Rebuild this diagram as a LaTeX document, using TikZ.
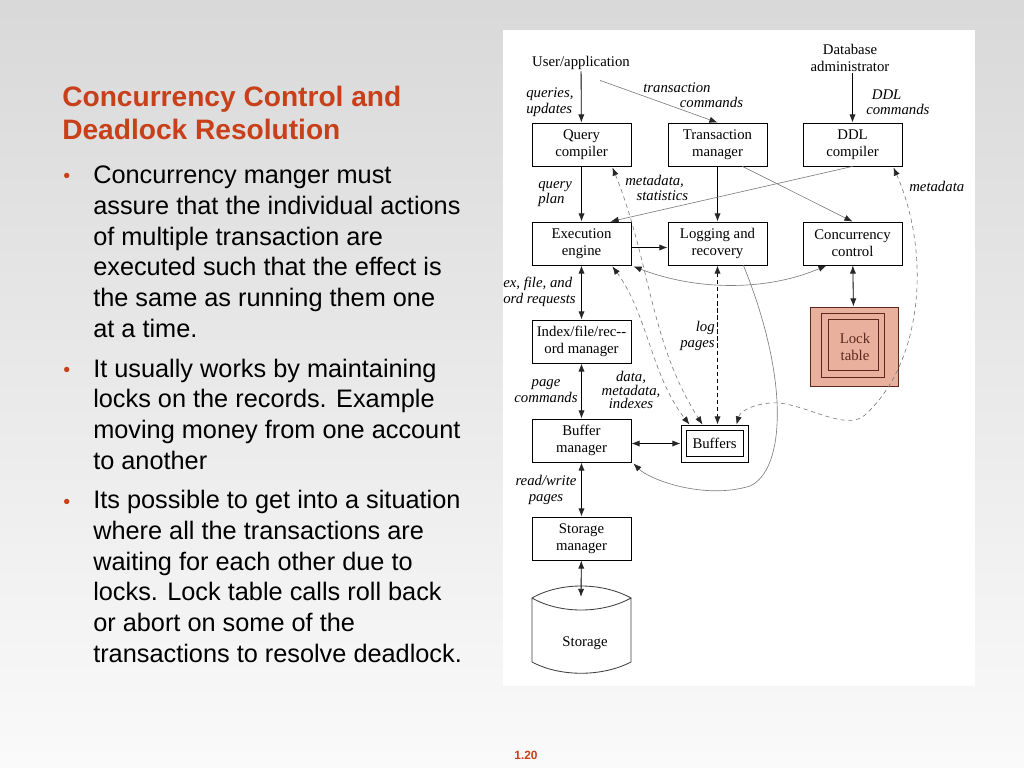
\documentclass[tikz,border=0pt]{standalone}
\usepackage{fontspec}
\setmainfont{Liberation Sans}
\newfontfamily\diagfont{Liberation Serif}
\usetikzlibrary{arrows.meta}
\definecolor{slidered}{RGB}{200,64,26}
\definecolor{lockfill}{RGB}{233,176,158}
\definecolor{lockline}{RGB}{92,40,28}
\definecolor{linegray}{RGB}{125,125,125}
\tikzset{
  >={Latex[length=5.8pt,width=4.4pt,color=black!85]},
  box/.style={draw, line width=0.6pt, minimum width=2.475cm, minimum height=1.075cm,
    align=center, inner sep=1pt, font=\diagfont\fontsize{10.5}{12}\selectfont},
  plain/.style={align=center, inner sep=1pt, font=\diagfont\fontsize{10.5}{11.5}\selectfont},
  lbl/.style={inner sep=0pt, font=\diagfont\itshape\fontsize{10.5}{11}\selectfont},
  arr/.style={->, line width=0.6pt},
  arrb/.style={<->, line width=0.6pt},
  garr/.style={->, draw=linegray, line width=0.45pt},
  garrb/.style={<->, draw=linegray, line width=0.45pt},
  darr/.style={<->, line width=0.6pt, dash pattern=on 3pt off 2pt},
  dgarr/.style={<->, draw=linegray, line width=0.45pt, dash pattern=on 3pt off 2.5pt},
  title/.style={inner sep=0pt, align=left, text=slidered, font=\bfseries\fontsize{20}{24}\selectfont},
  body/.style={inner sep=0pt, align=left, font=\fontsize{18}{21.8}\selectfont},
  bul/.style={inner sep=0pt, text=slidered, font=\fontsize{14}{16}\selectfont}
}
\begin{document}
\begin{tikzpicture}[x=0.025cm, y=-0.025cm]
  \useasboundingbox (0,0) rectangle (1024,768);
  \shade[top color=gray!30, bottom color=gray!4] (0,0) rectangle (1024,768);
  \fill[white] (503,30) rectangle (975,686);

  % slide text
  \node[title, anchor=base west] (title) at (62,140) {Concurrency Control and\\Deadlock Resolution};
  \node[bul, anchor=base west] (b1) at (63,183) {\textbullet};
  \node[body, anchor=base west] (t1) at (93,337) {Concurrency manger must\\assure that the individual actions\\of multiple transaction are\\executed such that the effect is\\the same as running them one\\at a time.};
  \node[bul, anchor=base west] (b2) at (63,376) {\textbullet};
  \node[body, anchor=base west] (t2) at (93,469) {It usually works by maintaining\\locks on the records. Example\\moving money from one account\\to another};
  \node[bul, anchor=base west] (b3) at (63,508) {\textbullet};
  \node[body, anchor=base west] (t3) at (93,662) {Its possible to get into a situation\\where all the transactions are\\waiting for each other due to\\locks. Lock table calls roll back\\or abort on some of the\\transactions to resolve deadlock.};
  \node[text=slidered, font=\bfseries\fontsize{8.5}{10}\selectfont] (pgno) at (526,755) {1.20};

  % boxes
  \node[plain] (user) at (581,63) {User/application};
  \node[plain] (dba) at (850,58) {Database\\administrator};
  \node[box] (qc) at (581.5,144.5) {Query\\compiler};
  \node[box] (tm) at (717.5,144.5) {Transaction\\manager};
  \node[box] (ddl) at (852.5,144.5) {DDL\\compiler};
  \node[box] (ee) at (581.5,243.5) {Execution\\engine};
  \node[box] (lr) at (717.5,243.5) {Logging and\\recovery};
  \node[box] (cc) at (852.5,243.5) {Concurrency\\control};
  \node[box] (ifm) at (581.5,341.5) {Index/file/rec--\\ord manager};
  \node[box] (bm) at (581.5,440.5) {Buffer\\manager};
  \node[box] (sm) at (581.5,538.5) {Storage\\manager};
  \node[box, minimum width=1.675cm, minimum height=0.925cm] (buf) at (714.5,443.5) {Buffers};
  \draw[line width=0.6pt] ([shift={(6,6)}]buf.north west) rectangle ([shift={(-5,-6)}]buf.south east);
  \node[draw=lockline, fill=lockfill, line width=0.6pt, minimum width=2.2cm, minimum height=1.975cm] (lock) at (854,346.5) {};
  \draw[lockline, line width=0.6pt] ([shift={(12,7)}]lock.north west) rectangle ([shift={(-14,-9)}]lock.south east);
  \draw[lockline, line width=0.6pt] ([shift={(19,13)}]lock.north west) rectangle ([shift={(-20,-16)}]lock.south east);
  \node[plain, text=lockline] (locktxt) at (855,347) {Lock\\table};
  \node[plain] (sttext) at (585,643) {Storage};
  \coordinate (sttop) at (581,597);
  \draw[line width=0.6pt, draw=black!75] (532,598) .. controls (560,582) and (602,582) .. (631,598)
    .. controls (602,614) and (560,614) .. (532,598) -- (532,662)
    .. controls (560,677) and (602,677) .. (631,662) -- (631,598);

  % labels
  \node[lbl, align=left, anchor=west] (lqu) at (526,102) {queries,\\updates};
  \node[lbl, align=left, anchor=west] (ltc) at (643,95) {transaction\\\hspace*{26pt}commands};
  \node[lbl, align=left, anchor=west] (lddl) at (866,102) {\hspace*{4pt}DDL\\commands};
  \node[lbl, align=left, anchor=west] (lqp) at (538,194) {query\\plan};
  \node[lbl, align=left, anchor=west] (lms) at (625,188) {metadata,\\\hspace*{8pt}statistics};
  \node[lbl, anchor=west] (lmd) at (909,186) {metadata};
  \node[lbl, align=left, anchor=west] (lreq) at (503,292) {ex, file, and\\ord requests};
  \node[lbl, align=right, anchor=east] (llog) at (715,336) {log\\pages};
  \node[lbl, align=center] (lpc) at (546,391) {page\\commands};
  \node[lbl, align=center, font=\diagfont\itshape\fontsize{10.5}{9.4}\selectfont] (ldmi) at (631,390) {data,\\metadata,\\indexes};
  \node[lbl, align=center] (lrw) at (546,490) {read/write\\pages};

  % connectors
  \draw[arr] (user) -- (qc);
  \draw[garr] ([shift={(19,9)}]user.south) -- (tm.north);
  \draw[arr] (dba.south -| ddl.north) -- (ddl);
  \draw[arr] (qc) -- (ee);
  \draw[arr] (tm) -- (lr);
  \draw[garr] ([shift={(25,0)}]tm.south) -- (cc.north);
  \draw[garr] (ddl.south) -- ([shift={(29,0)}]ee.north);
  \draw[arr] ([shift={(0,4)}]ee.east) -- ([shift={(0,4)}]lr.west);
  \draw[garrb] ([shift={(2,1)}]ee.south east) .. controls (700,292) and (770,290) .. ([shift={(24,0)}]cc.south west);
  \draw[arrb] (cc) -- (lock);
  \draw[arrb] (ee) -- (ifm);
  \draw[arrb] (ifm) -- (bm);
  \draw[arrb] (bm.east |- buf.west) -- (buf.west);
  \draw[arrb] (bm) -- (sm);
  \draw[arrb] (sm) -- (sttop);
  \draw[darr] (lr.south) -- (lr.south |- buf.north);
  \draw[dgarr] ([shift={(-19,1)}]qc.south east) .. controls (650,260) and (650,343) .. ([shift={(-12,0)}]buf.north);
  \draw[dgarr] ([shift={(-19,1)}]ee.south east) .. controls (648,315) and (651,375) .. ([shift={(-25,0)}]buf.north);
  \draw[dgarr] ([shift={(-9,1)}]ddl.south east) .. controls (930,250) and (925,360) .. (865,415)
    .. controls (845,433) and (800,400) .. (770,403) .. controls (750,405) and (740,412) .. ([shift={(22,0)}]buf.north);
  \draw[garr] ([shift={(-24,0)}]lr.south east) .. controls (790,380) and (785,470) .. (750,486)
    .. controls (705,500) and (650,480) .. ([shift={(2,1)}]bm.south east);
\end{tikzpicture}
\end{document}
